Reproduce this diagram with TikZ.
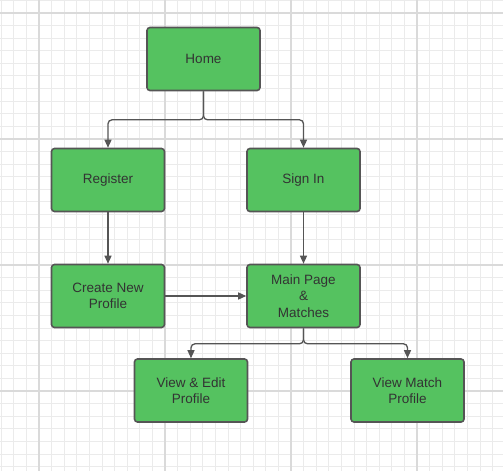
\documentclass[tikz,border=0pt]{standalone}
\usepackage{fontspec}
\setmainfont{Liberation Sans}
\usetikzlibrary{arrows.meta}
\definecolor{boxgreen}{RGB}{85,194,96}
\definecolor{edgegray}{RGB}{85,85,85}
\definecolor{textgray}{RGB}{51,51,51}
\definecolor{gridminor}{RGB}{235,235,235}
\definecolor{gridmajor}{RGB}{218,218,218}
\tikzset{
  stepbox/.style={draw=edgegray, line width=1.6bp, fill=boxgreen, rounded corners=3bp,
    minimum width=113bp, minimum height=63bp, inner sep=0pt, align=center,
    text=textgray, font=\fontsize{13.5bp}{16.5bp}\selectfont},
  conn/.style={draw=edgegray, line width=1.3bp, rounded corners=4bp,
    -{Triangle[length=8bp,width=7bp]}},
  minorline/.style={draw=gridminor, line width=1bp},
  majorline/.style={draw=gridmajor, line width=1.6bp}
}
\begin{document}
\begin{tikzpicture}[x=1bp, y=-1bp]
  % page and background grid
  \useasboundingbox (0,0) rectangle (503,471);
  \fill[white] (0,0) rectangle (503,471);
  \foreach \i in {-3,...,37} {
    \draw[minorline] ({39+12.6*\i},0) -- ({39+12.6*\i},471);
  }
  \foreach \j in {-1,...,36} {
    \draw[minorline] (0,{13+12.6*\j}) -- (503,{13+12.6*\j});
  }
  \foreach \x in {39,165,291,417} {
    \draw[majorline] (\x,0) -- (\x,471);
  }
  \foreach \y in {13,139,265,391} {
    \draw[majorline] (0,\y) -- (503,\y);
  }

  % pages
  \node[stepbox] (home)   at (203.5,59)  {Home};
  \node[stepbox] (reg)    at (108,180)   {Register};
  \node[stepbox] (signin) at (303.5,180) {Sign In};
  \node[stepbox] (create) at (108,296)   {Create New\\Profile};
  \node[stepbox] (main)   at (303.5,296) {Main Page\\\&\\Matches};
  \node[stepbox] (edit)   at (191,390.5) {View \& Edit\\Profile};
  \node[stepbox] (match)  at (407.5,390.5) {View Match\\Profile};

  % navigation
  \draw[conn] (home.south) -- ++(0,28.5) -| (reg.north);
  \draw[conn] (home.south) -- ++(0,28.5) -| (signin.north);
  \draw[conn] (reg.south) -- (create.north);
  \draw[conn] (signin.south) -- (main.north);
  \draw[conn] (create.east) -- (main.west);
  \draw[conn] (main.south) -- ++(0,15.5) -| (edit.north);
  \draw[conn] (main.south) -- ++(0,15.5) -| (match.north);
\end{tikzpicture}
\end{document}
